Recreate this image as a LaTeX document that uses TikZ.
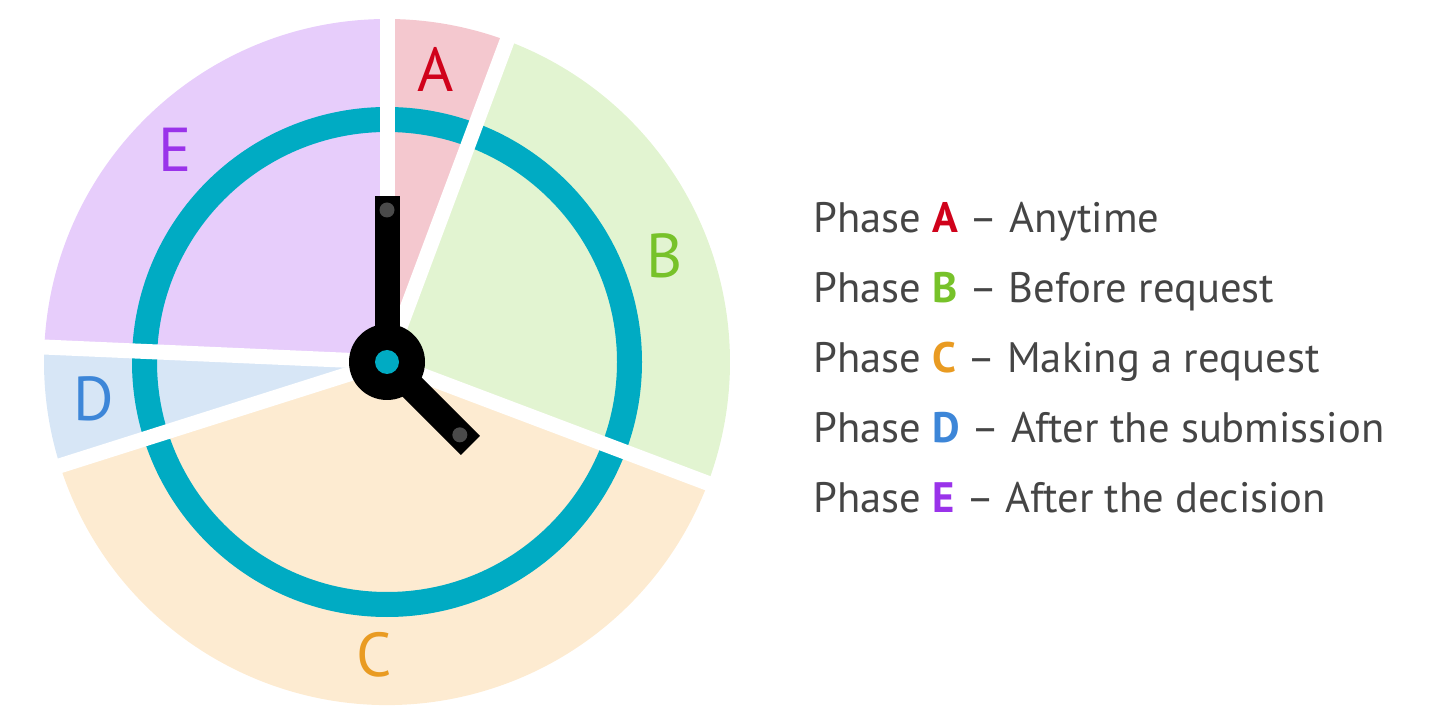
\documentclass[tikz,border=0pt]{standalone}
\usepackage{fontspec}
\setmainfont{PT Sans}
\usetikzlibrary{positioning}
\definecolor{ringteal}{HTML}{00ABC3}
\definecolor{fillA}{HTML}{F4C8CF}
\definecolor{fillB}{HTML}{E2F4D1}
\definecolor{fillC}{HTML}{FDEBD1}
\definecolor{fillD}{HTML}{D7E6F6}
\definecolor{fillE}{HTML}{E7CDFB}
\definecolor{colA}{HTML}{D0021B}
\definecolor{colB}{HTML}{77C22A}
\definecolor{colC}{HTML}{E99B22}
\definecolor{colD}{HTML}{3D86D8}
\definecolor{colE}{HTML}{9A33EA}
\definecolor{legendgray}{HTML}{454545}
\definecolor{boltgray}{HTML}{4A4A4A}
\tikzstyle{letter}=[font=\fontsize{31}{36}\selectfont, inner sep=0pt]
\tikzstyle{legend}=[anchor=base west, inner sep=0pt, text=legendgray,
font=\fontsize{21.3}{24}\selectfont]
\tikzstyle{gap}=[white, line width=7.5pt]
\tikzstyle{hand}=[black, line cap=butt]
\tikzstyle{bolt}=[fill=boltgray]

\begin{document}
\begin{tikzpicture}[x=0.5pt,y=0.5pt]
\useasboundingbox (0,0) rectangle (1453,724);
\coordinate (c) at (387,362);
% sectors
\fill[fillA] (c) -- ++(70:343) arc (70:90:343) -- cycle;
\fill[fillB] (c) -- ++(-21:343) arc (-21:70:343) -- cycle;
\fill[fillC] (c) -- ++(198:343) arc (198:339:343) -- cycle;
\fill[fillD] (c) -- ++(177:343) arc (177:198:343) -- cycle;
\fill[fillE] (c) -- ++(90:343) arc (90:177:343) -- cycle;
% ring
\draw[ringteal, line width=12.5pt] (c) circle (242.5);
% gaps
\foreach \a in {90,69.5,-20.7,197.6,177.5}
  \draw[gap] (c) -- ++(\a:360);
% letters
\node[letter, text=colA] (letA) at (436,655) {A};
\node[letter, text=colB] (letB) at (665,468) {B};
\node[letter, text=colC] (letC) at (374,69) {C};
\node[letter, text=colD] (letD) at (94,325) {D};
\node[letter, text=colE] (letE) at (175,574) {E};
% hands
\draw[hand, line width=12.5pt] (c) -- (387,528);
\draw[hand, line width=13.5pt] (c) -- ++(-45:118);
\fill (c) circle (38);
\fill[ringteal] (c) circle (12);
\fill[bolt] (387,514) circle (7.5);
\fill[bolt] (c) ++(-45:103) circle (7.5);
% legend
\node[legend] (phaseA) at (813,491) {Phase \textbf{\textcolor{colA}{A}} – Anytime};
\node[legend] (phaseB) at (813,421) {Phase \textbf{\textcolor{colB}{B}} – Before request};
\node[legend] (phaseC) at (813,351) {Phase \textbf{\textcolor{colC}{C}} – Making a request};
\node[legend] (phaseD) at (813,281) {Phase \textbf{\textcolor{colD}{D}} – After the submission};
\node[legend] (phaseE) at (813,211) {Phase \textbf{\textcolor{colE}{E}} – After the decision};
\end{tikzpicture}
\end{document}
